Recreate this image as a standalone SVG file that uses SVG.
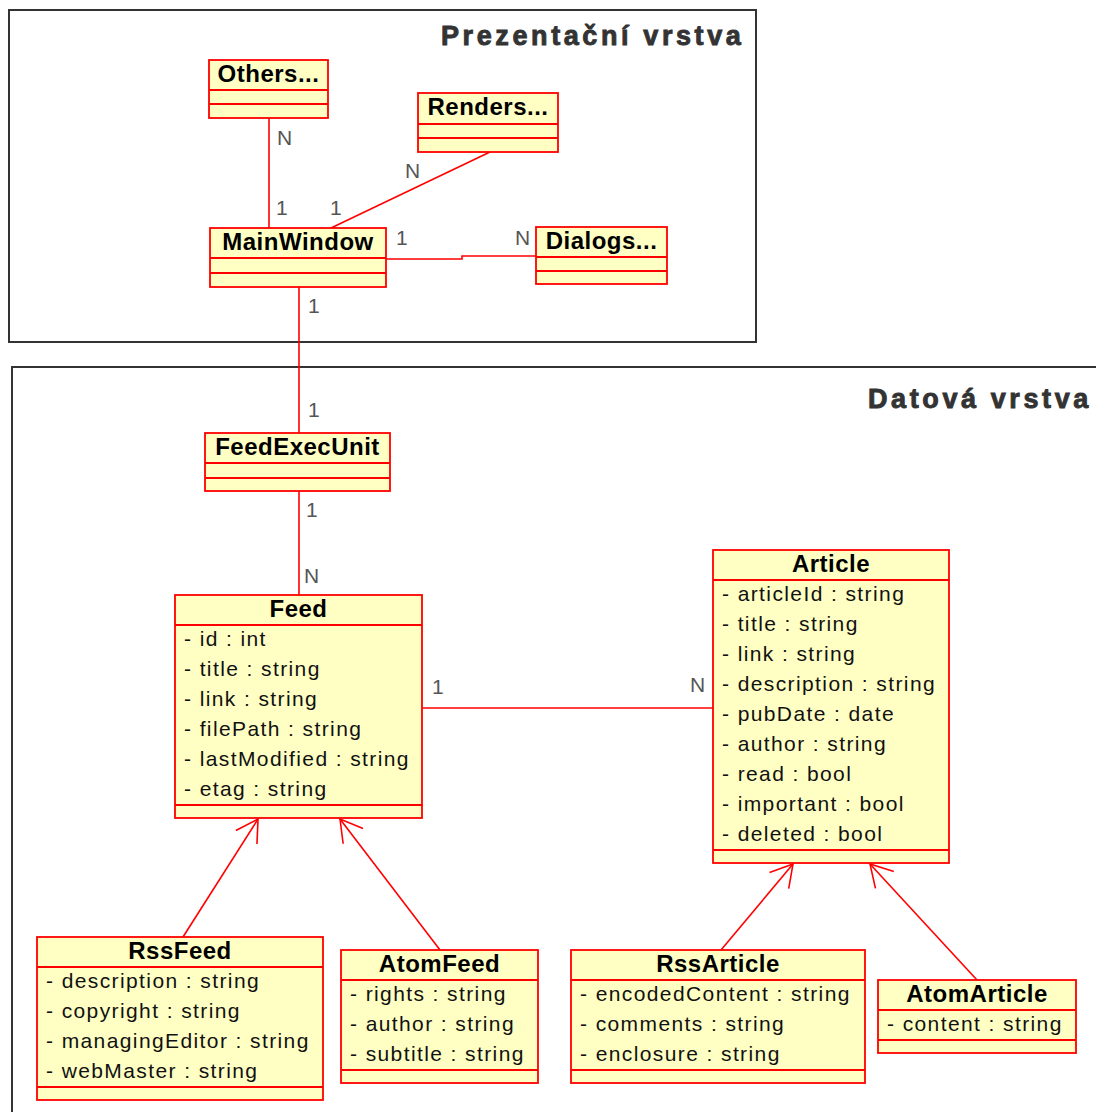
<svg xmlns="http://www.w3.org/2000/svg" width="1096" height="1112" viewBox="0 0 1096 1112">
<style>
.frame{fill:none;stroke:#333;stroke-width:2}
.ftitle{font-family:"Liberation Sans",Arial,sans-serif;font-weight:bold;font-size:27px;letter-spacing:3.6px;fill:#333;stroke:#333;stroke-width:0.9}
.box{fill:#ffffc4;stroke:#ff0000;stroke-width:1.8}
.sep{stroke:#ff0000;stroke-width:1.8}
.name{font-family:"Liberation Sans",Arial,sans-serif;font-weight:bold;font-size:24px;letter-spacing:0.5px;fill:#000;text-anchor:middle}
.attr{font-family:"Liberation Sans",Arial,sans-serif;font-size:21px;letter-spacing:1.4px;fill:#111}
.conn{stroke:#ff0000;stroke-width:1.6;fill:none}
.mult{font-family:"Liberation Sans",Arial,sans-serif;font-size:21px;fill:#555}
</style>
<defs>
<marker id="inh" markerUnits="userSpaceOnUse" viewBox="-26 -15 30 30" markerWidth="30" markerHeight="30" refX="0" refY="0" orient="auto" overflow="visible">
<path d="M-21.6,-12.5 L0,0 L-21.6,12.5" fill="none" stroke="#ff0000" stroke-width="1.6"/>
</marker>
</defs>
<rect width="1096" height="1112" fill="#fff"/>
<g id="frames">
<rect class="frame" x="9" y="10" width="747" height="332"/>
<text class="ftitle" x="441" y="45">Prezentační vrstva</text>
<rect class="frame" x="12" y="367" width="1200" height="900"/>
<text class="ftitle" x="868" y="408">Datová vrstva</text>
</g>
<g id="connectors">
<line class="conn" x1="269" y1="118" x2="269" y2="228"/>
<line class="conn" x1="490" y1="152" x2="331" y2="228"/>
<polyline class="conn" points="386,259 462,259 462,256 536,256"/>
<line class="conn" x1="299" y1="287" x2="299" y2="433"/>
<line class="conn" x1="299" y1="491" x2="299" y2="595"/>
<line class="conn" x1="422" y1="708" x2="713" y2="708"/>
<line class="conn" x1="183" y1="937" x2="258" y2="819" marker-end="url(#inh)"/>
<line class="conn" x1="440" y1="950" x2="340" y2="819" marker-end="url(#inh)"/>
<line class="conn" x1="721" y1="950" x2="793" y2="864" marker-end="url(#inh)"/>
<line class="conn" x1="977" y1="980" x2="870" y2="864" marker-end="url(#inh)"/>
<text class="mult" x="277" y="145">N</text>
<text class="mult" x="276" y="215">1</text>
<text class="mult" x="405" y="178">N</text>
<text class="mult" x="330" y="215">1</text>
<text class="mult" x="396" y="245">1</text>
<text class="mult" x="515" y="245">N</text>
<text class="mult" x="308" y="313">1</text>
<text class="mult" x="308" y="417">1</text>
<text class="mult" x="306" y="517">1</text>
<text class="mult" x="304" y="583">N</text>
<text class="mult" x="432" y="694">1</text>
<text class="mult" x="690" y="692">N</text>
</g>
<g id="Others">
<rect class="box" x="209" y="60" width="119" height="58"/>
<line class="sep" x1="209" y1="90" x2="328" y2="90"/>
<line class="sep" x1="209" y1="104" x2="328" y2="104"/>
<text class="name" x="268.5" y="82">Others...</text>
</g>
<g id="Renders">
<rect class="box" x="418" y="93" width="140" height="59"/>
<line class="sep" x1="418" y1="124" x2="558" y2="124"/>
<line class="sep" x1="418" y1="138" x2="558" y2="138"/>
<text class="name" x="488" y="115">Renders...</text>
</g>
<g id="MainWindow">
<rect class="box" x="210" y="228" width="176" height="59"/>
<line class="sep" x1="210" y1="258" x2="386" y2="258"/>
<line class="sep" x1="210" y1="273" x2="386" y2="273"/>
<text class="name" x="298" y="250">MainWindow</text>
</g>
<g id="Dialogs">
<rect class="box" x="536" y="227" width="131" height="57"/>
<line class="sep" x1="536" y1="257" x2="667" y2="257"/>
<line class="sep" x1="536" y1="271" x2="667" y2="271"/>
<text class="name" x="601.5" y="249">Dialogs...</text>
</g>
<g id="FeedExecUnit">
<rect class="box" x="205" y="433" width="185" height="58"/>
<line class="sep" x1="205" y1="463" x2="390" y2="463"/>
<line class="sep" x1="205" y1="478" x2="390" y2="478"/>
<text class="name" x="297.5" y="455">FeedExecUnit</text>
</g>
<g id="Feed">
<rect class="box" x="175" y="595" width="247" height="223"/>
<line class="sep" x1="175" y1="625" x2="422" y2="625"/>
<line class="sep" x1="175" y1="805" x2="422" y2="805"/>
<text class="name" x="298.5" y="617">Feed</text>
<text class="attr" x="184" y="646">- id : int</text>
<text class="attr" x="184" y="676">- title : string</text>
<text class="attr" x="184" y="706">- link : string</text>
<text class="attr" x="184" y="736">- filePath : string</text>
<text class="attr" x="184" y="766">- lastModified : string</text>
<text class="attr" x="184" y="796">- etag : string</text>
</g>
<g id="Article">
<rect class="box" x="713" y="550" width="236" height="313"/>
<line class="sep" x1="713" y1="580" x2="949" y2="580"/>
<line class="sep" x1="713" y1="850" x2="949" y2="850"/>
<text class="name" x="831" y="572">Article</text>
<text class="attr" x="722" y="601">- articleId : string</text>
<text class="attr" x="722" y="631">- title : string</text>
<text class="attr" x="722" y="661">- link : string</text>
<text class="attr" x="722" y="691">- description : string</text>
<text class="attr" x="722" y="721">- pubDate : date</text>
<text class="attr" x="722" y="751">- author : string</text>
<text class="attr" x="722" y="781">- read : bool</text>
<text class="attr" x="722" y="811">- important : bool</text>
<text class="attr" x="722" y="841">- deleted : bool</text>
</g>
<g id="RssFeed">
<rect class="box" x="37" y="937" width="286" height="163"/>
<line class="sep" x1="37" y1="967" x2="323" y2="967"/>
<line class="sep" x1="37" y1="1087" x2="323" y2="1087"/>
<text class="name" x="180" y="959">RssFeed</text>
<text class="attr" x="46" y="988">- description : string</text>
<text class="attr" x="46" y="1018">- copyright : string</text>
<text class="attr" x="46" y="1048">- managingEditor : string</text>
<text class="attr" x="46" y="1078">- webMaster : string</text>
</g>
<g id="AtomFeed">
<rect class="box" x="341" y="950" width="197" height="133"/>
<line class="sep" x1="341" y1="980" x2="538" y2="980"/>
<line class="sep" x1="341" y1="1070" x2="538" y2="1070"/>
<text class="name" x="439.5" y="972">AtomFeed</text>
<text class="attr" x="350" y="1001">- rights : string</text>
<text class="attr" x="350" y="1031">- author : string</text>
<text class="attr" x="350" y="1061">- subtitle : string</text>
</g>
<g id="RssArticle">
<rect class="box" x="571" y="950" width="294" height="133"/>
<line class="sep" x1="571" y1="980" x2="865" y2="980"/>
<line class="sep" x1="571" y1="1070" x2="865" y2="1070"/>
<text class="name" x="718" y="972">RssArticle</text>
<text class="attr" x="580" y="1001">- encodedContent : string</text>
<text class="attr" x="580" y="1031">- comments : string</text>
<text class="attr" x="580" y="1061">- enclosure : string</text>
</g>
<g id="AtomArticle">
<rect class="box" x="878" y="980" width="198" height="73"/>
<line class="sep" x1="878" y1="1010" x2="1076" y2="1010"/>
<line class="sep" x1="878" y1="1040" x2="1076" y2="1040"/>
<text class="name" x="977" y="1002">AtomArticle</text>
<text class="attr" x="887" y="1031">- content : string</text>
</g>
</svg>
